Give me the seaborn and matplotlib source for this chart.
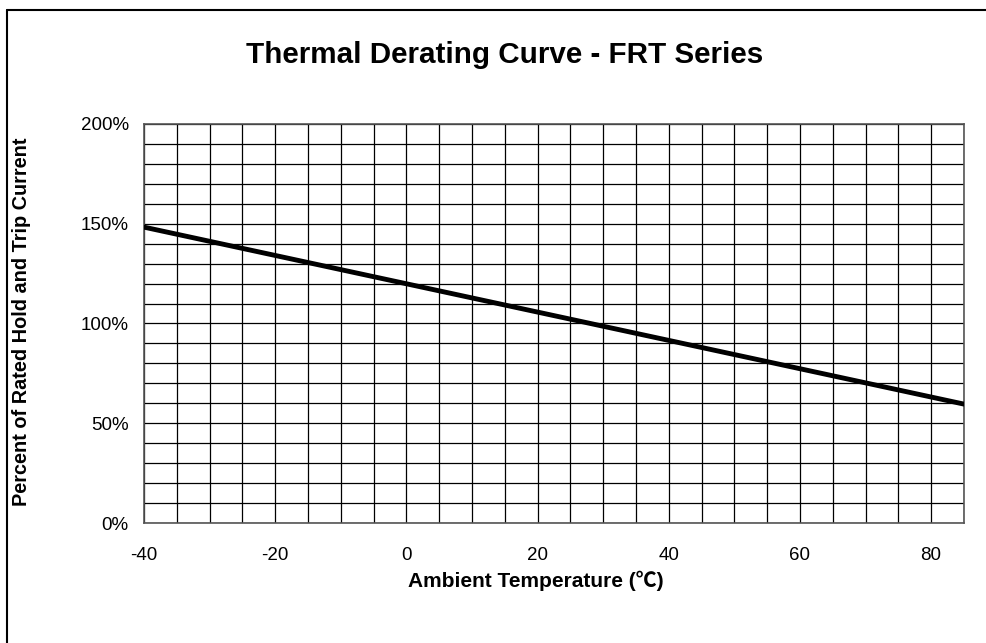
import matplotlib
matplotlib.use('Agg')
import matplotlib.pyplot as plt
import seaborn as sns
import pandas as pd
import numpy as np

# values
temperature = [-40, 85]
percent = [148.3, 59.6]
x_ticks = [-40, -20, 0, 20, 40, 60, 80]
y_ticks = [0, 50, 100, 150, 200]
y_tick_labels = ['0%', '50%', '100%', '150%', '200%']

sns.set_style('white')
plt.rcParams['font.family'] = ['Liberation Sans', 'Noto Sans CJK SC', 'DejaVu Sans']
plt.rcParams['axes.unicode_minus'] = False
plt.rcParams['text.color'] = 'black'

df = pd.DataFrame({'temp': temperature, 'pct': percent})

fig = plt.figure(figsize=(9.86, 6.43), dpi=100)
ax = fig.add_axes([0.146, 0.1866, 0.8316, 0.6206])

# fine grid every 5 degC / 10 %
ax.set_xticks(np.arange(-40, 86, 5), minor=True)
ax.set_yticks(np.arange(0, 201, 10), minor=True)
ax.grid(which='both', color='black', linewidth=0.9)
ax.set_axisbelow(True)

sns.lineplot(data=df, x='temp', y='pct', color='black', linewidth=3.5, ax=ax, zorder=3)

ax.set_xlim(-40, 85)
ax.set_ylim(0, 200)
ax.set_xticks(x_ticks)
ax.set_yticks(y_ticks)
ax.set_yticklabels(y_tick_labels)
ax.tick_params(which='both', length=0, labelsize=13.5, colors='black')
ax.tick_params(axis='x', pad=17)
ax.tick_params(axis='y', pad=11)
for s in ax.spines.values():
    s.set_color('#555555')
    s.set_linewidth(1.2)

ax.set_xlabel('')
ax.set_ylabel('')
fig.text(0.512, 0.915, 'Thermal Derating Curve - FRT Series', ha='center', va='center',
         fontsize=21.3, fontweight='bold')
fig.text(0.543, 0.0964, 'Ambient Temperature (℃)', ha='center', va='center',
         fontsize=15, fontweight='bold')
fig.text(0.022, 0.5, 'Percent of Rated Hold and Trip Current', ha='center', va='center',
         rotation=90, fontsize=14.3, fontweight='bold')

# outer frame (only top and left edge visible in the reference)
fig.add_artist(plt.Line2D([7/986, 7/986], [0, 1 - 10/643], color='black', linewidth=1.5))
fig.add_artist(plt.Line2D([7/986, 1], [1 - 10/643, 1 - 10/643], color='black', linewidth=1.5))

fig.savefig('out.png', dpi=100)
